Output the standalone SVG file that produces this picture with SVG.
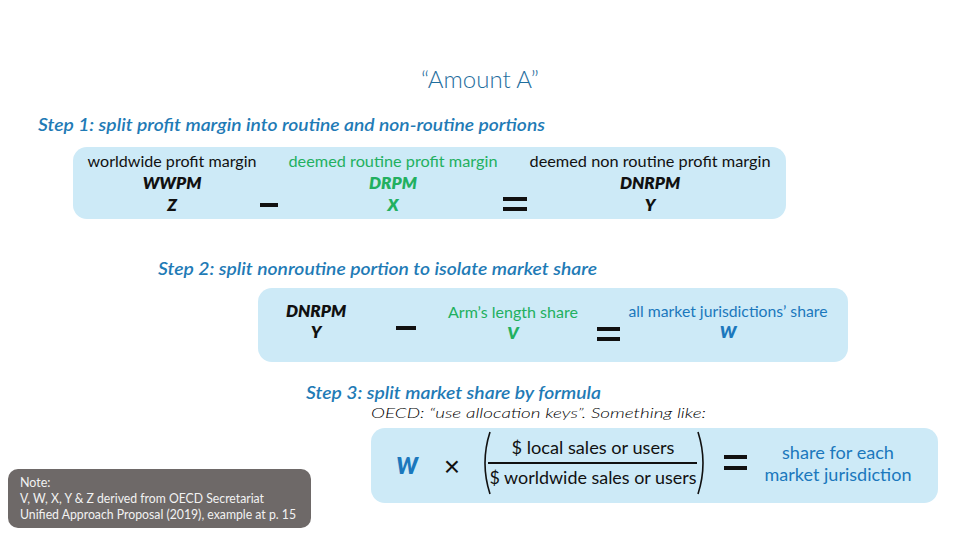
<svg xmlns="http://www.w3.org/2000/svg" width="960" height="540" viewBox="0 0 960 540">
<style>
text{font-family:Lato,"Noto Sans","Liberation Sans",sans-serif}
.box{fill:#cdeaf7}
.step{fill:#1f7bb6;font-size:17px;font-style:italic;font-weight:600}
.lbl{font-size:16px;text-anchor:middle}
.sym{font-size:17px;font-weight:800;font-style:italic;text-anchor:middle}
.blk{fill:#111}
.grn{fill:#22b060}
.blu{fill:#1b78bd}
.bar{fill:#111}
</style>
<rect width="960" height="540" fill="#fff"/>
<text x="480" y="88" text-anchor="middle" font-size="24" font-weight="300" fill="#1f6e9e">“Amount A”</text>
<g id="step1">
<text class="step" x="38" y="131" textLength="507" lengthAdjust="spacingAndGlyphs">Step 1: split profit margin into routine and non-routine portions</text>
<rect class="box" x="73" y="147" width="713" height="72" rx="14"/>
<text class="lbl blk" x="172" y="167" textLength="169" lengthAdjust="spacingAndGlyphs">worldwide profit margin</text>
<text class="sym blk" x="172" y="189">WWPM</text>
<text class="sym blk" x="172" y="211">Z</text>
<rect class="bar" x="260" y="203" width="18" height="4"/>
<text class="lbl grn" x="393" y="167" textLength="209" lengthAdjust="spacingAndGlyphs">deemed routine profit margin</text>
<text class="sym grn" x="393" y="189">DRPM</text>
<text class="sym grn" x="393" y="211">X</text>
<rect class="bar" x="503" y="197" width="24" height="4"/>
<rect class="bar" x="503" y="207" width="24" height="4"/>
<text class="lbl blk" x="650" y="167" textLength="241" lengthAdjust="spacingAndGlyphs">deemed non routine profit margin</text>
<text class="sym blk" x="650" y="189">DNRPM</text>
<text class="sym blk" x="650" y="211">Y</text>
</g>
<g id="step2">
<text class="step" x="158" y="275" textLength="439" lengthAdjust="spacingAndGlyphs">Step 2: split nonroutine portion to isolate market share</text>
<rect class="box" x="258" y="288" width="590" height="74" rx="14"/>
<text class="sym blk" x="316" y="317">DNRPM</text>
<text class="sym blk" x="316" y="338">Y</text>
<rect class="bar" x="396" y="326" width="20" height="4"/>
<text class="lbl grn" x="513" y="318" textLength="130" lengthAdjust="spacingAndGlyphs">Arm’s length share</text>
<text class="sym grn" x="513" y="339">V</text>
<rect class="bar" x="597" y="327" width="23" height="4"/>
<rect class="bar" x="597" y="337" width="23" height="4"/>
<text class="lbl blu" x="728" y="317" textLength="199" lengthAdjust="spacingAndGlyphs">all market jurisdictions’ share</text>
<text class="sym blu" x="728" y="338">W</text>
</g>
<g id="step3">
<text class="step" x="306" y="399" textLength="295" lengthAdjust="spacingAndGlyphs">Step 3: split market share by formula</text>
<text x="371" y="418" font-size="14" font-style="italic" font-weight="300" fill="#000" textLength="335" lengthAdjust="spacingAndGlyphs">OECD: “use allocation keys”. Something like:</text>
<rect class="box" x="371" y="428" width="567" height="75" rx="14"/>
<text x="407" y="474" font-size="22" font-weight="800" font-style="italic" text-anchor="middle" class="blu">W</text>
<text x="452" y="476" font-size="28" text-anchor="middle" fill="#111" style="font-family:'Liberation Sans',sans-serif">×</text>
<path d="M490,432 Q480,463 490,494" fill="none" stroke="#111" stroke-width="1.6"/>
<path d="M698,432 Q708,463 698,494" fill="none" stroke="#111" stroke-width="1.6"/>
<text x="593" y="454" font-size="17" text-anchor="middle" fill="#111" textLength="163" lengthAdjust="spacingAndGlyphs">$ local sales or users</text>
<rect x="488" y="462" width="209" height="2" fill="#111"/>
<text x="593" y="484" font-size="17" text-anchor="middle" fill="#111" textLength="207" lengthAdjust="spacingAndGlyphs">$ worldwide sales or users</text>
<rect class="bar" x="724" y="455" width="23" height="4"/>
<rect class="bar" x="724" y="466" width="23" height="4"/>
<text x="838" y="459" font-size="17" text-anchor="middle" class="blu" textLength="112" lengthAdjust="spacingAndGlyphs">share for each</text>
<text x="838" y="481" font-size="17" text-anchor="middle" class="blu" textLength="147" lengthAdjust="spacingAndGlyphs">market jurisdiction</text>
</g>
<g id="note">
<rect x="8" y="469" width="303" height="59" rx="10" fill="#6e6968"/>
<text x="20" y="487" font-size="12.5" fill="#f2f2f2">Note:</text>
<text x="20" y="503" font-size="12.5" fill="#f2f2f2" textLength="244" lengthAdjust="spacingAndGlyphs">V, W, X, Y &amp; Z derived from OECD Secretariat</text>
<text x="20" y="519" font-size="12.5" fill="#f2f2f2" textLength="276" lengthAdjust="spacingAndGlyphs">Unified Approach Proposal (2019), example at p. 15</text>
</g>
</svg>
